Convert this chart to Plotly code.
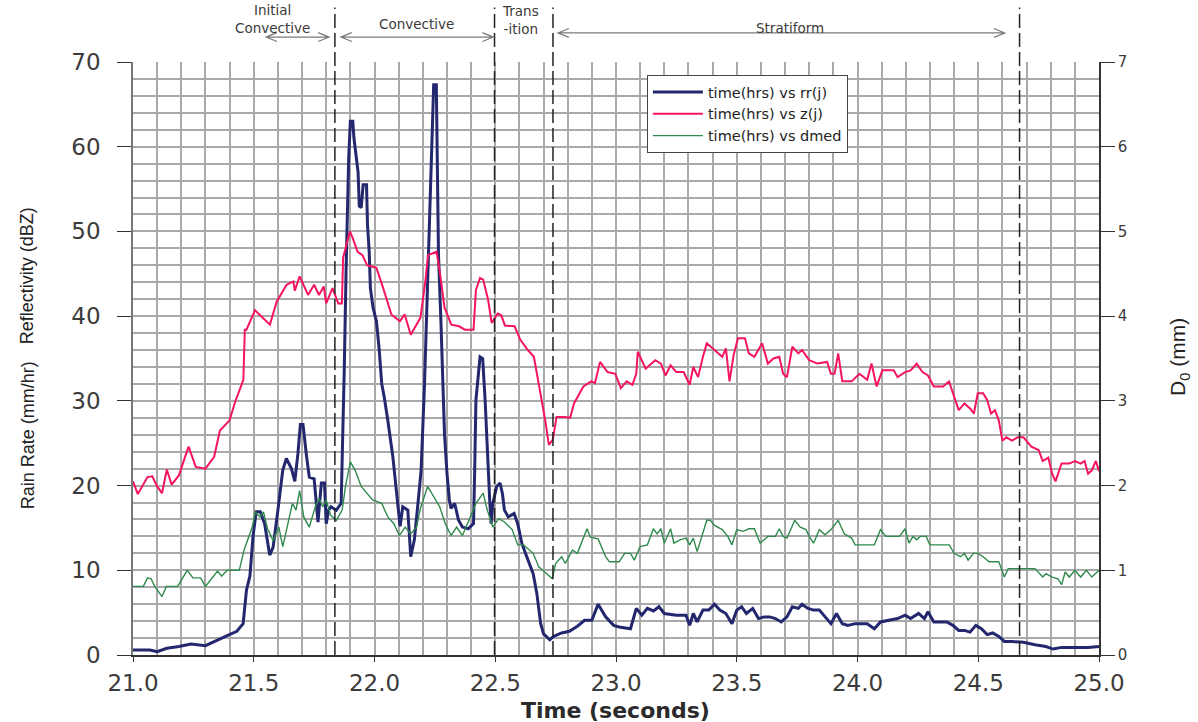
import plotly.graph_objects as go

# ---- Rain rate rr(j), mm/hr (left axis) ----
rr_time = [21.00, 21.07, 21.10, 21.14, 21.19, 21.24, 21.30, 21.35, 21.39, 21.43,
           21.456, 21.47, 21.484, 21.497, 21.51, 21.527, 21.545, 21.566, 21.58, 21.60,
           21.62, 21.635, 21.656, 21.67, 21.683, 21.693, 21.704, 21.718, 21.73, 21.75,
           21.766, 21.78, 21.793, 21.80, 21.81, 21.82, 21.842, 21.862, 21.869, 21.875,
           21.882, 21.887, 21.893, 21.90, 21.91, 21.915, 21.923, 21.932, 21.937, 21.945,
           21.953, 21.967, 21.971, 21.978, 21.983, 21.994, 22.008, 22.019, 22.03, 22.04,
           22.055, 22.076, 22.096, 22.106, 22.117, 22.138, 22.15, 22.165, 22.18, 22.193,
           22.207, 22.215, 22.222, 22.229, 22.236, 22.245, 22.256, 22.258, 22.262, 22.265,
           22.275, 22.282, 22.29, 22.30, 22.31, 22.317, 22.332, 22.348, 22.364, 22.388,
           22.41, 22.415, 22.42, 22.437, 22.448, 22.458, 22.469, 22.477, 22.483, 22.49,
           22.506, 22.52, 22.53, 22.538, 22.554, 22.578, 22.593, 22.61, 22.625, 22.64,
           22.657, 22.672, 22.688, 22.70, 22.726, 22.742, 22.775, 22.807, 22.84, 22.87,
           22.90, 22.926, 22.957, 22.99, 23.013, 23.06, 23.084, 23.107, 23.13, 23.155,
           23.178, 23.20, 23.25, 23.29, 23.305, 23.32, 23.336, 23.36, 23.384, 23.408,
           23.43, 23.455, 23.48, 23.50, 23.52, 23.54, 23.566, 23.59, 23.613, 23.637,
           23.66, 23.684, 23.708, 23.73, 23.755, 23.77, 23.795, 23.818, 23.842, 23.866,
           23.89, 23.913, 23.937, 23.96, 23.99, 24.04, 24.07, 24.095, 24.126, 24.166,
           24.197, 24.22, 24.253, 24.277, 24.292, 24.316, 24.34, 24.37, 24.395, 24.419,
           24.443, 24.466, 24.49, 24.513, 24.537, 24.56, 24.585, 24.608, 24.64, 24.687,
           24.735, 24.78, 24.81, 24.845, 24.908, 24.955, 25.00]
rr_value = [0.6, 0.6, 0.4, 0.8, 1.0, 1.3, 1.1, 1.8, 2.3, 2.8,
            3.7, 7.7, 9.3, 14.0, 16.9, 16.9, 15.5, 11.8, 12.7, 17.1,
            21.8, 23.2, 22.0, 20.5, 23.8, 27.2, 27.2, 23.6, 21.0, 20.8,
            15.7, 20.3, 20.3, 15.5, 17.1, 17.5, 17.1, 17.9, 25.0, 34.0,
            45.0, 53.5, 58.5, 63.0, 63.0, 61.0, 59.0, 57.0, 53.0, 52.8,
            55.5, 55.5, 50.8, 47.6, 43.3, 41.0, 39.4, 36.2, 32.0, 30.5,
            27.7, 23.4, 17.9, 15.2, 17.5, 17.1, 11.6, 13.6, 17.9, 21.8,
            31.9, 39.4, 47.2, 54.3, 61.0, 67.3, 67.3, 61.0, 54.3, 47.2,
            39.4, 31.9, 26.0, 21.5, 18.3, 17.3, 17.9, 15.9, 15.1, 14.9,
            15.5, 22.0, 30.1, 35.2, 35.0, 30.1, 22.2, 18.3, 15.5, 17.9,
            19.9, 20.3, 19.0, 17.1, 16.3, 16.7, 15.5, 13.2, 12.0, 10.8,
            9.6, 7.3, 3.7, 2.5, 1.8, 2.2, 2.6, 2.8, 3.4, 4.1,
            4.1, 6.0, 4.5, 3.5, 3.3, 3.1, 5.5, 4.7, 5.5, 5.2,
            5.7, 4.9, 4.7, 4.7, 3.5, 4.9, 3.9, 5.3, 5.3, 6.0,
            5.3, 4.9, 3.7, 5.3, 5.7, 4.9, 5.5, 4.3, 4.5, 4.5,
            4.3, 3.9, 4.5, 5.7, 5.5, 6.0, 5.5, 5.3, 5.3, 4.5,
            3.7, 4.9, 3.7, 3.5, 3.7, 3.7, 3.1, 3.9, 4.1, 4.3,
            4.7, 4.3, 4.9, 4.3, 5.1, 3.9, 3.9, 3.9, 3.5, 2.9,
            2.9, 2.7, 3.5, 3.1, 2.4, 2.6, 2.2, 1.6, 1.6, 1.5,
            1.2, 1.0, 0.7, 0.9, 0.9, 0.9, 1.0]

# ---- Reflectivity z(j), dBZ (left axis) ----
z_time = [21.00, 21.02, 21.06, 21.08, 21.10, 21.12, 21.14, 21.16, 21.19, 21.23,
          21.26, 21.30, 21.336, 21.36, 21.40, 21.423, 21.447, 21.457, 21.463, 21.47,
          21.505, 21.567, 21.595, 21.636, 21.664, 21.67, 21.69, 21.725, 21.75, 21.77,
          21.79, 21.80, 21.826, 21.85, 21.865, 21.87, 21.898, 21.91, 21.93, 21.95,
          21.97, 22.008, 22.036, 22.07, 22.105, 22.125, 22.15, 22.19, 22.21, 22.222,
          22.257, 22.27, 22.29, 22.318, 22.35, 22.374, 22.41, 22.42, 22.437, 22.45,
          22.47, 22.485, 22.51, 22.525, 22.54, 22.58, 22.604, 22.635, 22.66, 22.683,
          22.707, 22.722, 22.738, 22.754, 22.786, 22.81, 22.826, 22.865, 22.897, 22.913,
          22.934, 22.965, 22.997, 23.02, 23.044, 23.068, 23.084, 23.09, 23.107, 23.123,
          23.147, 23.163, 23.186, 23.205, 23.226, 23.25, 23.28, 23.305, 23.32, 23.34,
          23.36, 23.376, 23.408, 23.44, 23.455, 23.47, 23.487, 23.505, 23.534, 23.55,
          23.573, 23.605, 23.629, 23.652, 23.676, 23.692, 23.708, 23.73, 23.755, 23.77,
          23.80, 23.834, 23.874, 23.89, 23.905, 23.92, 23.937, 23.976, 24.008, 24.04,
          24.058, 24.079, 24.103, 24.15, 24.166, 24.197, 24.22, 24.245, 24.269, 24.292,
          24.316, 24.355, 24.379, 24.395, 24.419, 24.443, 24.466, 24.482, 24.498, 24.52,
          24.537, 24.553, 24.569, 24.585, 24.60, 24.616, 24.64, 24.663, 24.687, 24.72,
          24.75, 24.767, 24.79, 24.806, 24.82, 24.845, 24.877, 24.90, 24.924, 24.94,
          24.955, 24.97, 24.987, 25.00]
z_value = [20.5, 19.0, 21.0, 21.1, 19.9, 19.1, 21.9, 20.1, 21.2, 24.6,
           22.2, 22.0, 23.4, 26.5, 27.7, 29.9, 31.7, 32.5, 38.4, 38.4,
           40.7, 39.0, 41.7, 43.7, 44.1, 43.0, 44.7, 42.5, 43.7, 42.5,
           43.5, 41.5, 43.3, 41.5, 41.5, 46.9, 50.0, 49.2, 47.6, 47.2,
           46.0, 45.7, 43.3, 40.2, 39.4, 40.2, 37.8, 39.8, 44.0, 47.2,
           47.6, 45.3, 41.0, 39.0, 38.8, 38.4, 38.4, 43.1, 44.5, 44.3,
           42.0, 39.2, 40.3, 40.1, 38.9, 38.8, 37.2, 36.0, 35.2, 31.7,
           27.7, 24.8, 25.4, 28.1, 28.1, 28.0, 29.7, 31.7, 32.3, 32.1,
           34.6, 33.4, 33.2, 31.5, 32.3, 31.9, 33.2, 35.8, 34.8, 33.8,
           34.4, 34.8, 34.4, 33.0, 34.2, 33.4, 33.4, 31.9, 34.0, 32.8,
           35.2, 36.8, 36.0, 35.2, 36.2, 32.3, 35.4, 37.4, 37.4, 35.6,
           35.2, 36.8, 34.4, 35.0, 35.2, 33.2, 32.8, 36.4, 35.6, 36.0,
           34.8, 34.4, 34.6, 33.2, 33.2, 35.6, 32.3, 32.3, 33.2, 32.5,
           34.4, 31.7, 33.6, 33.6, 32.8, 33.4, 33.6, 34.4, 33.4, 33.0,
           31.7, 31.7, 32.3, 30.9, 28.9, 29.7, 29.1, 28.5, 30.9, 30.9,
           30.1, 28.5, 28.9, 27.7, 25.3, 25.7, 25.3, 25.7, 25.7, 24.6,
           24.2, 22.9, 23.3, 21.4, 20.5, 22.6, 22.6, 22.9, 22.6, 22.9,
           21.4, 21.8, 22.9, 21.7]

# ---- Median drop diameter dmed, mm (right axis) ----
d_time = [21.00, 21.043, 21.06, 21.075, 21.09, 21.12, 21.138, 21.185, 21.21, 21.225,
          21.248, 21.28, 21.30, 21.328, 21.35, 21.367, 21.39, 21.44, 21.46, 21.494,
          21.506, 21.525, 21.54, 21.557, 21.58, 21.604, 21.62, 21.636, 21.66, 21.675,
          21.69, 21.707, 21.73, 21.755, 21.77, 21.786, 21.80, 21.818, 21.842, 21.866,
          21.88, 21.90, 21.92, 21.945, 21.968, 21.992, 22.03, 22.055, 22.08, 22.103,
          22.127, 22.15, 22.174, 22.19, 22.22, 22.245, 22.27, 22.293, 22.317, 22.34,
          22.364, 22.388, 22.42, 22.45, 22.467, 22.49, 22.514, 22.538, 22.57, 22.593,
          22.617, 22.657, 22.68, 22.713, 22.736, 22.75, 22.775, 22.79, 22.82, 22.84,
          22.88, 22.894, 22.926, 22.957, 22.973, 23.013, 23.036, 23.06, 23.076, 23.10,
          23.13, 23.155, 23.17, 23.186, 23.20, 23.226, 23.24, 23.265, 23.29, 23.305,
          23.32, 23.336, 23.352, 23.376, 23.39, 23.408, 23.44, 23.463, 23.48, 23.50,
          23.526, 23.55, 23.573, 23.597, 23.629, 23.66, 23.676, 23.692, 23.708, 23.74,
          23.763, 23.787, 23.80, 23.818, 23.842, 23.866, 23.89, 23.92, 23.945, 23.976,
          23.99, 24.024, 24.07, 24.095, 24.118, 24.15, 24.174, 24.197, 24.213, 24.23,
          24.245, 24.26, 24.284, 24.30, 24.33, 24.38, 24.40, 24.427, 24.443, 24.458,
          24.48, 24.498, 24.52, 24.545, 24.585, 24.608, 24.624, 24.647, 24.735, 24.767,
          24.78, 24.806, 24.83, 24.845, 24.86, 24.877, 24.90, 24.924, 24.948, 24.97,
          25.00]
d_value = [0.81, 0.81, 0.91, 0.90, 0.81, 0.69, 0.81, 0.81, 0.93, 1.00,
           0.91, 0.91, 0.81, 0.91, 0.99, 0.93, 1.00, 1.00, 1.24, 1.51,
           1.69, 1.63, 1.69, 1.49, 1.35, 1.51, 1.28, 1.48, 1.79, 1.71,
           1.94, 1.63, 1.51, 1.75, 1.85, 1.75, 1.83, 1.65, 1.59, 1.71,
           1.99, 2.28, 2.18, 1.99, 1.91, 1.83, 1.79, 1.63, 1.55, 1.41,
           1.51, 1.43, 1.51, 1.73, 1.99, 1.87, 1.75, 1.55, 1.41, 1.51,
           1.41, 1.57, 1.79, 1.91, 1.71, 1.51, 1.61, 1.57, 1.48, 1.30,
           1.30, 1.20, 1.04, 0.96, 0.90, 1.08, 1.16, 1.08, 1.24, 1.20,
           1.49, 1.39, 1.37, 1.16, 1.10, 1.10, 1.20, 1.20, 1.12, 1.28,
           1.30, 1.49, 1.43, 1.49, 1.32, 1.49, 1.32, 1.36, 1.38, 1.30,
           1.38, 1.22, 1.38, 1.59, 1.59, 1.53, 1.48, 1.40, 1.30, 1.48,
           1.46, 1.49, 1.49, 1.32, 1.40, 1.40, 1.49, 1.40, 1.38, 1.59,
           1.51, 1.48, 1.40, 1.32, 1.48, 1.42, 1.48, 1.59, 1.43, 1.38,
           1.30, 1.30, 1.30, 1.48, 1.40, 1.40, 1.40, 1.49, 1.32, 1.40,
           1.36, 1.40, 1.40, 1.30, 1.30, 1.30, 1.20, 1.16, 1.20, 1.12,
           1.20, 1.20, 1.16, 1.10, 1.10, 0.92, 1.02, 1.02, 1.02, 0.92,
           0.96, 0.92, 0.90, 0.83, 0.98, 0.92, 1.00, 0.92, 1.00, 0.92,
           1.00]

# ---- Rain regime boundaries (time) ----
boundary_times = [21.836, 22.497, 22.739, 24.671]

NAVY = "#23276e"
PINK = "#f5155f"
GREEN = "#2f8a4c"
GRID = "#a9a9a9"
TEXT = "#3b3b3b"
NARROW = "Liberation Sans Narrow, Arial Narrow, Liberation Sans, sans-serif"
WIDE = "DejaVu Sans, Liberation Sans, sans-serif"

fig = go.Figure()
fig.add_trace(go.Scatter(x=rr_time, y=rr_value, mode="lines",
                         name="time(hrs) vs rr(j)",
                         line=dict(color=NAVY, width=3)))
fig.add_trace(go.Scatter(x=z_time, y=z_value, mode="lines",
                         name="time(hrs) vs z(j)",
                         line=dict(color=PINK, width=2)))
fig.add_trace(go.Scatter(x=d_time, y=d_value, mode="lines",
                         name="time(hrs) vs dmed", yaxis="y2",
                         line=dict(color=GREEN, width=1.4)))

# dashed regime boundaries, reaching up into the label band
for bt in boundary_times:
    fig.add_shape(type="line", xref="x", yref="paper", x0=bt, x1=bt,
                  y0=0, y1=1.092, line=dict(color="#222222", width=1.5,
                                            dash="14px,5px"))

label_font = dict(family=WIDE, size=13.5, color=TEXT)
regime_labels = [
    (21.578, 1.073, "Initial<br>Convective"),
    (22.175, 1.064, "Convective"),
    (22.603, 1.071, "Trans<br>-ition"),
    (23.720, 1.058, "Stratiform"),
]
for lx, ly, lt in regime_labels:
    fig.add_annotation(x=lx, y=ly, xref="x", yref="paper", text=lt,
                       showarrow=False, font=label_font,
                       xanchor="center", yanchor="middle")

# double-headed extent arrows under the regime labels (open heads)
regime_spans = [
    (21.551, 21.812, 1.042),
    (21.861, 22.492, 1.042),
    (22.760, 24.610, 1.049),
]
head_dx = 0.045   # head length in time units
head_dy = 0.0075  # head half-height in paper units
for xs, xe, yy in regime_spans:
    path = (f"M {xs},{yy} L {xe},{yy} "
            f"M {xs + head_dx},{yy + head_dy} L {xs},{yy} L {xs + head_dx},{yy - head_dy} "
            f"M {xe - head_dx},{yy + head_dy} L {xe},{yy} L {xe - head_dx},{yy - head_dy}")
    fig.add_shape(type="path", xref="x", yref="paper", path=path,
                  line=dict(color="#7a7a7a", width=1.2))

# axis titles
title_font = dict(family=NARROW, size=18, color="#222222")
fig.add_annotation(x=-0.109, y=0.37, xref="paper", yref="paper",
                   text="Rain Rate (mm/hr)", textangle=-90, showarrow=False,
                   font=title_font, xanchor="center", yanchor="middle")
fig.add_annotation(x=-0.109, y=0.64, xref="paper", yref="paper",
                   text="Reflectivity (dBZ)", textangle=-90, showarrow=False,
                   font=title_font, xanchor="center", yanchor="middle")
fig.add_annotation(x=1.083, y=0.503, xref="paper", yref="paper",
                   text="D<sub>0</sub> (mm)", textangle=-90, showarrow=False,
                   font=dict(family=NARROW, size=21, color="#222222"),
                   xanchor="center", yanchor="middle")
fig.add_annotation(x=0.499, y=-0.093, xref="paper", yref="paper",
                   text="<b>Time (seconds)</b>", showarrow=False,
                   font=dict(family=WIDE, size=22, color="#2a2a2a"),
                   xanchor="center", yanchor="middle")

tick_font = dict(family=WIDE, size=23, color=TEXT)

fig.update_layout(
    width=1198, height=722,
    margin=dict(l=133, r=99, t=62, b=67),
    paper_bgcolor="white", plot_bgcolor="white",
    showlegend=True,
    legend=dict(x=0.532, y=0.978, xanchor="left", yanchor="top",
                bgcolor="white", bordercolor="#444444", borderwidth=1,
                font=dict(family=WIDE, size=14.5, color="#222222"),
                tracegroupgap=0, itemwidth=50),
    xaxis=dict(range=[21, 25], tick0=21, dtick=0.5, tickformat=".1f",
               showgrid=True, gridcolor=GRID, gridwidth=1.5,
               minor=dict(dtick=0.1, showgrid=True, gridcolor=GRID,
                          gridwidth=1.5),
               ticks="outside", ticklen=5, tickcolor="#333333",
               showline=True, linecolor="#333333", linewidth=1.5,
               mirror=False, zeroline=False, tickfont=tick_font,
               ticklabelstandoff=2, automargin=False),
    yaxis=dict(range=[0, 70], tick0=0, dtick=10,
               showgrid=True, gridcolor=GRID, gridwidth=1.5,
               minor=dict(dtick=2, showgrid=True, gridcolor=GRID,
                          gridwidth=1.5),
               ticks="outside", ticklen=14, tickcolor="#333333",
               showline=True, linecolor="#777777", linewidth=1.5,
               zeroline=False, tickfont=tick_font, ticklabelstandoff=12,
               automargin=False),
    yaxis2=dict(range=[0, 7], tick0=0, dtick=1, overlaying="y", side="right",
                showgrid=False, ticks="outside", ticklen=14,
                tickcolor="#333333", showline=True, linecolor="#333333",
                linewidth=1.5, zeroline=False, automargin=False,
                tickfont=dict(family=WIDE, size=15, color=TEXT)),
)

fig.write_html("out.html")
